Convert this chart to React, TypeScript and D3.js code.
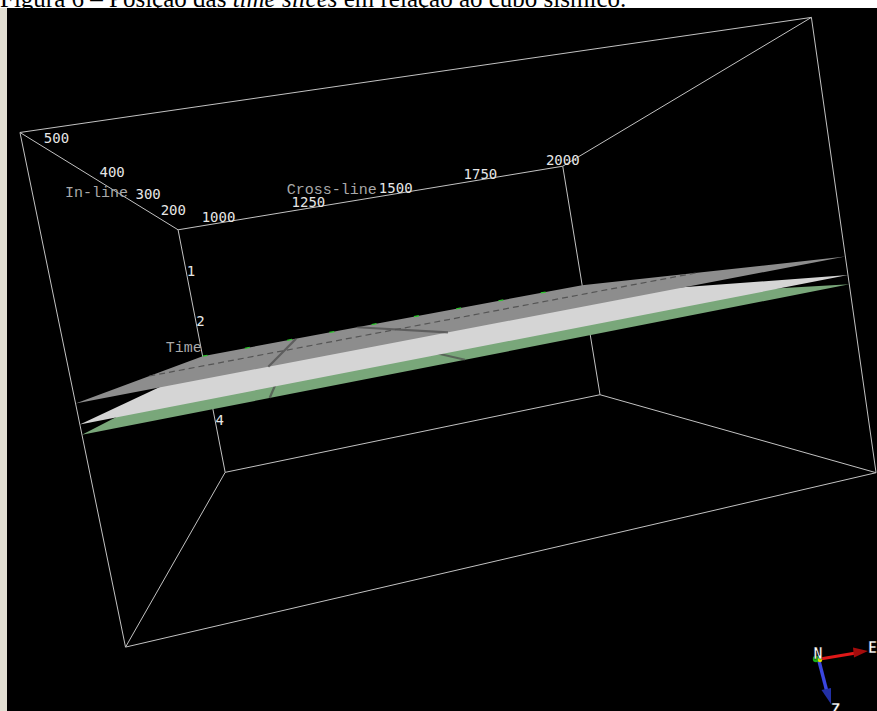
import React, { useMemo } from 'react';
import * as d3 from 'd3';

// Survey volume extents
const crosslineRange: [number, number] = [890, 2000];
const inlineRange: [number, number] = [177, 545];
const timeRange: [number, number] = [0.1, 5.0];

// Axis annotations
const crosslineTicks = [1000, 1250, 1500, 1750, 2000];
const inlineTicks = [200, 300, 400, 500];
const timeTicks = [1, 2, 3, 4];

// Time slices, deepest first so shallower slices are painted over them
const sliceTimes = [2.93, 2.83, 2.63];
const sliceColors = ['#79a77a', '#d5d5d5', '#8d8d8d'];

// Fault traces cut by the slices: crossline where each trace meets the
// high-inline and low-inline ends of the slice
const faultSlice = [2.63, 2.63, 2.93, 2.93];
const faultNear = [1141, 1390, 1135, 1407];
const faultFar = [1150, 1325, 1120, 1367];

// Inline of the dashed survey line drawn on the shallow slice
const surveyLineInline = 400;
const surveyLineSlice = 2.63;

type V3 = [number, number, number];
type P2 = [number, number];

// Screen calibration of the viewer camera: unit-cube corner -> pixel
// (u = crossline, v = depth from the high-inline face, w = time)
const viewCalibration: [V3, P2][] = [
  [[0, 0, 0], [20, 134]],
  [[1, 0, 0], [811, 16]],
  [[1, 0, 1], [876, 472]],
  [[0, 0, 1], [126, 648]],
  [[0, 1, 0], [178, 229]],
  [[1, 1, 0], [563, 167]],
  [[1, 1, 1], [600, 395]],
  [[0, 1, 1], [225, 472]],
];

function solveLinear(M: number[][], b: number[]): number[] {
  const n = b.length;
  const a = M.map((r, i) => [...r, b[i]]);
  for (let c = 0; c < n; c++) {
    let piv = c;
    for (let r = c + 1; r < n; r++) if (Math.abs(a[r][c]) > Math.abs(a[piv][c])) piv = r;
    [a[c], a[piv]] = [a[piv], a[c]];
    for (let r = 0; r < n; r++) {
      if (r === c) continue;
      const f = a[r][c] / a[c][c];
      for (let k = c; k <= n; k++) a[r][k] -= f * a[c][k];
    }
  }
  return a.map((r, i) => r[n] / r[i]);
}

// Direct linear transform: least-squares 3x4 perspective camera
function fitCamera(cal: [V3, P2][]) {
  const s = 100;
  const A: number[][] = [];
  const b: number[] = [];
  cal.forEach(([[X, Y, Z], [px, py]]) => {
    const x = px / s;
    const y = py / s;
    A.push([X, Y, Z, 1, 0, 0, 0, 0, -x * X, -x * Y, -x * Z]);
    b.push(x);
    A.push([0, 0, 0, 0, X, Y, Z, 1, -y * X, -y * Y, -y * Z]);
    b.push(y);
  });
  const n = 11;
  const N = d3.range(n).map((i) => d3.range(n).map((j) => d3.sum(A, (r) => r[i] * r[j])));
  const rhs = d3.range(n).map((i) => d3.sum(A.map((r, k) => r[i] * b[k])));
  const p = solveLinear(N, rhs);
  return ([X, Y, Z]: V3): P2 => {
    const w = p[8] * X + p[9] * Y + p[10] * Z + 1;
    return [
      (s * (p[0] * X + p[1] * Y + p[2] * Z + p[3])) / w,
      (s * (p[4] * X + p[5] * Y + p[6] * Z + p[7])) / w,
    ];
  };
}

const W = 877;
const H = 711;

export default function App() {
  const project = useMemo(() => {
    const cam = fitCamera(viewCalibration);
    const u = d3.scaleLinear().domain(crosslineRange).range([0, 1]);
    const v = d3.scaleLinear().domain([inlineRange[1], inlineRange[0]]).range([0, 1]);
    const w = d3.scaleLinear().domain(timeRange).range([0, 1]);
    return (xl: number, il: number, t: number): P2 => cam([u(xl), v(il), w(t)]);
  }, []);

  const [X0, X1] = crosslineRange;
  const [I0, I1] = inlineRange;
  const [T0, T1] = timeRange;

  const corner = {
    A: project(X0, I1, T0),
    B: project(X1, I1, T0),
    C: project(X1, I1, T1),
    D: project(X0, I1, T1),
    E: project(X0, I0, T0),
    F: project(X1, I0, T0),
    G: project(X1, I0, T1),
    Hh: project(X0, I0, T1),
  };
  const backEdges: [P2, P2][] = [
    [corner.E, corner.F],
    [corner.F, corner.G],
    [corner.G, corner.Hh],
    [corner.Hh, corner.E],
    [corner.A, corner.E],
    [corner.B, corner.F],
    [corner.C, corner.G],
    [corner.D, corner.Hh],
  ];
  const frontEdges: [P2, P2][] = [
    [corner.A, corner.B],
    [corner.B, corner.C],
    [corner.C, corner.D],
    [corner.D, corner.A],
  ];

  const line = d3.line<P2>();
  const poly = (pts: P2[]) => line(pts) + 'Z';

  const frameStroke = '#c2c2c2';
  const tickFont = "'DejaVu Sans Mono', monospace";
  const titleFont = "'Liberation Mono', 'Courier New', monospace";

  const midInline = (I0 + I1) / 2;
  const midCross = (X0 + X1) / 2;
  const midTime = (T0 + T1) / 2;
  const inlineTitle = project(X0, midInline, T0);
  const crossTitle = project(midCross, I0, T0);
  const timeTitle = project(X0, I0, midTime);

  return (
    <div style={{ position: 'absolute', left: 0, top: 0, width: W, height: H, overflow: 'hidden', background: '#fff' }}>
      <svg width={W} height={H} style={{ display: 'block' }}>
        <rect x={0} y={0} width={W} height={H} fill="#ffffff" />
        <text x={0} y={7} fontFamily="'Liberation Serif', 'Times New Roman', serif" fontSize={25} fill="#000">
          Figura 6 – Posição das <tspan fontStyle="italic">time slices</tspan> em relação ao cubo sísmico.
        </text>
        <rect x={0} y={8} width={7} height={H - 8} fill="#e3dfd3" />
        <rect x={7} y={8} width={W - 7} height={H - 8} fill="#000" />

        {/* hidden edges of the volume */}
        <g stroke={frameStroke} strokeWidth={1} fill="none">
          {backEdges.map((e, i) => (
            <path key={i} d={line(e) as string} />
          ))}
        </g>

        {/* axis annotation */}
        <g fontFamily={tickFont} fontSize={14} fill="#e6e6e6" textAnchor="middle">
          {crosslineTicks.map((c) => {
            const [x, y] = project(c, I0, T0);
            return (
              <text key={'x' + c} x={x} y={y - 1}>
                {c}
              </text>
            );
          })}
          {inlineTicks.map((c) => {
            const [x, y] = project(X0, c, T0);
            return (
              <text key={'i' + c} x={x} y={y - 12}>
                {c}
              </text>
            );
          })}
          {timeTicks.map((c) => {
            const [x, y] = project(X0, I0, c);
            return (
              <text key={'t' + c} x={x + 4} y={y + 1}>
                {c}
              </text>
            );
          })}
        </g>
        <g fontFamily={titleFont} fontSize={15} fill="#a9a9a9" textAnchor="end">
          <text x={inlineTitle[0]} y={inlineTitle[1] - 2}>
            In-line
          </text>
          <text x={crossTitle[0]} y={crossTitle[1] - 3}>
            Cross-line
          </text>
          <text x={timeTitle[0]} y={timeTitle[1]}>
            Time
          </text>
        </g>

        {/* time slices */}
        {sliceTimes.map((t, si) => {
          const pts: P2[] = [project(X0, I1, t), project(X0, I0, t), project(X1, I0, t), project(X1, I1, t)];
          return (
            <g key={'s' + t}>
              <path d={poly(pts)} fill={sliceColors[si]} />
              {faultSlice.map((ft, fi) =>
                ft === t ? (
                  <path
                    key={fi}
                    d={line([project(faultNear[fi], I1, t), project(faultFar[fi], I0, t)]) as string}
                    stroke="#4a4a4a"
                    strokeOpacity={0.7}
                    strokeWidth={2.2}
                  />
                ) : null
              )}
              {t === surveyLineSlice ? (
                <path
                  d={line([project(X0, surveyLineInline, t), project(X1, surveyLineInline, t)]) as string}
                  stroke="#555555"
                  strokeWidth={1.2}
                  strokeDasharray="6 4"
                />
              ) : null}
              {si > 0 ? (
                <path
                  d={line([project(X0, I0, t), project(X1, I0, t)]) as string}
                  stroke="#2ec62e"
                  strokeWidth={1.3}
                  strokeDasharray="5 38"
                />
              ) : null}
            </g>
          );
        })}

        {/* visible edges of the volume */}
        <g stroke={frameStroke} strokeWidth={1} fill="none">
          {frontEdges.map((e, i) => (
            <path key={i} d={line(e) as string} />
          ))}
        </g>

        {/* orientation gizmo */}
        <g>
          <line x1={820} y1={659} x2={856} y2={653} stroke="#e01818" strokeWidth={3.2} />
          <path d="M853,647.5 L868,651 L854,657.5 Z" fill="#a40c0c" />
          <line x1={819} y1={661} x2={827} y2={692} stroke="#3a46e0" strokeWidth={3.4} />
          <path d="M821.5,690 L831,704 L831,688 Z" fill="#2230a6" />
          <circle cx={816} cy={659} r={3.2} fill="#19b019" />
          <circle cx={820} cy={660} r={2.2} fill="#e0e000" />
          <g fontFamily={tickFont} fontSize={15} fontWeight="bold" fill="#ffffff" stroke="#000" strokeWidth={0.4}>
            <text x={818} y={659} textAnchor="middle">N</text>
            <text x={868} y={653}>E</text>
            <text x={831} y={715}>Z</text>
          </g>
        </g>
      </svg>
    </div>
  );
}
